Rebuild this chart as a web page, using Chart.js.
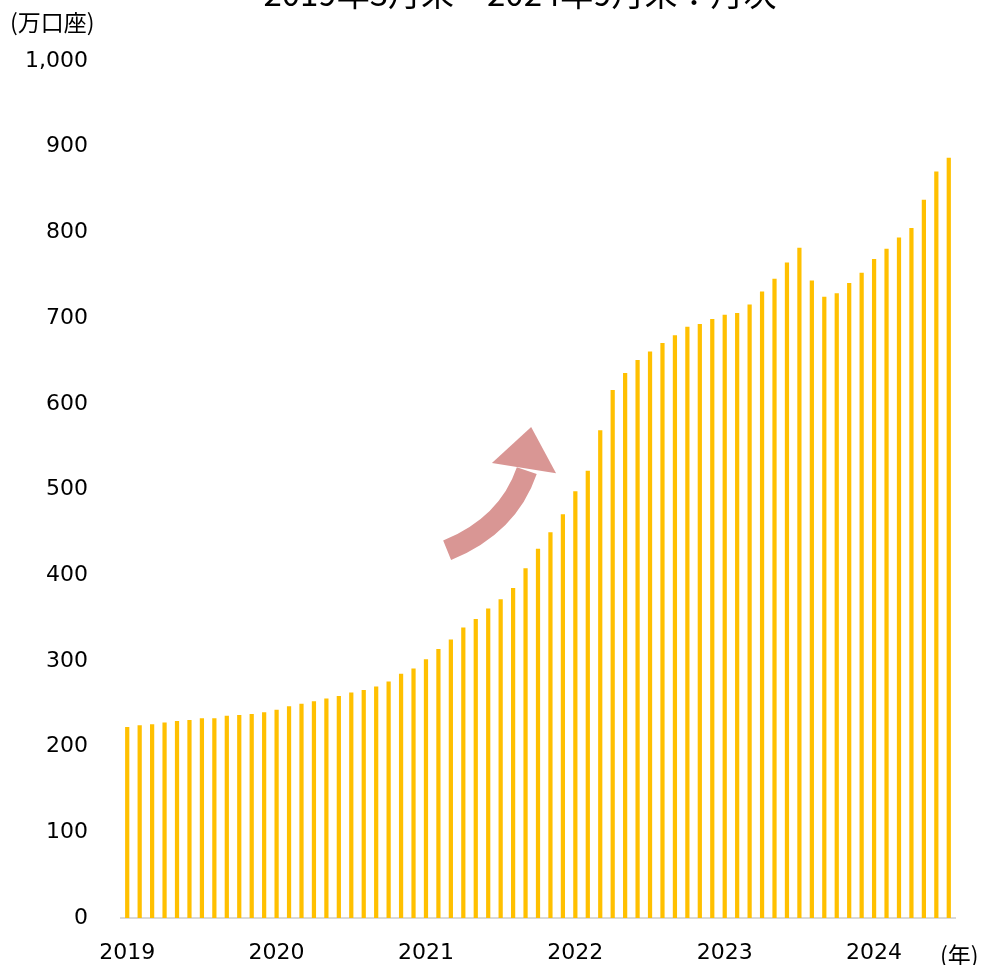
<!DOCTYPE html>
<html>
<head>
<meta charset="utf-8">
<script src="https://cdn.jsdelivr.net/npm/chart.js@4/dist/chart.umd.min.js"></script>
<style>
  body { margin: 0; background: #fff; }
</style>
</head>
<body>
<canvas id="myChart" width="993" height="965"></canvas>
<script>
// 口座数（万口座）、2019年3月末～2024年9月末、月次
var yearTicks = ['2019', '2020', '2021', '2022', '2023', '2024'];
var startMonth = 3;
var accounts = [
  223, 225, 226, 228, 230, 231, 233, 233, 236, 237, 238, 240,
  243, 247, 250, 253, 256, 259, 263, 266, 270, 276, 285, 291,
  302, 314, 325, 339, 349, 361, 372, 385, 408, 431, 450, 471,
  498, 522, 569, 616, 636, 651, 661, 671, 680, 690, 693, 699,
  704, 706, 716, 731, 746, 765, 782, 744, 725, 729, 741, 753,
  769, 781, 794, 805, 838, 871, 887
];

var months = [];
for (var i = 0; i < accounts.length; i++) {
  var m = startMonth - 1 + i;
  months.push(yearTicks[Math.floor(m / 12)] + '年' + (m % 12 + 1) + '月');
}

var jpFont = '"Noto Sans CJK JP", sans-serif';
var numFont = '"DejaVu Sans", "Noto Sans CJK JP", sans-serif';

// タイトル・単位・矢印
var extras = {
  id: 'extras',
  afterDraw: function(chart) {
    var ctx = chart.ctx;
    var x = chart.scales.x, y = chart.scales.y;
    ctx.save();
    ctx.fillStyle = '#000';
    ctx.font = '33px ' + jpFont;
    ctx.textAlign = 'center';
    ctx.textBaseline = 'alphabetic';
    ctx.fillText('2019年3月末～2024年9月末：月次', 520, 6);

    ctx.font = '23px ' + jpFont;
    ctx.textAlign = 'left';
    ctx.textBaseline = 'middle';
    ctx.fillText('(万口座)', 10, 22);
    ctx.fillText('(年)', 940, 955);

    // 矢印
    var px = function(i) { return x.getPixelForValue(i); };
    var py = function(v) { return y.getPixelForValue(v); };
    ctx.strokeStyle = '#d99694';
    ctx.fillStyle = '#d99694';
    ctx.lineWidth = 21;
    ctx.lineCap = 'butt';
    ctx.beginPath();
    ctx.moveTo(px(25.7), py(429));
    ctx.quadraticCurveTo(px(30.6), py(458), px(32.1), py(522));
    ctx.stroke();
    ctx.beginPath();
    ctx.moveTo(px(29.3), py(531));
    ctx.lineTo(px(32.45), py(573));
    ctx.lineTo(px(34.45), py(519));
    ctx.closePath();
    ctx.fill();
    ctx.restore();
  }
};

function makeChart() {
  var ctx = document.getElementById('myChart').getContext('2d');
  var myChart = new Chart(ctx, {
    type: 'bar',
    data: {
      labels: months,
      datasets: [{
        label: '口座数',
        data: accounts,
        backgroundColor: '#ffc000',
        barPercentage: 0.34,
        categoryPercentage: 1
      }]
    },
    options: {
      responsive: false,
      animation: false,
      layout: { padding: { top: 61, right: 38, bottom: 0, left: 0 } },
      plugins: {
        legend: { display: false },
        tooltip: { enabled: false }
      },
      scales: {
        x: {
          grid: { display: false, drawTicks: false },
          border: { color: '#d9d9d9', width: 2 },
          ticks: {
            autoSkip: false,
            maxRotation: 0,
            padding: 22,
            color: '#000',
            font: { family: numFont, size: 22 },
            callback: function(v, i) {
              return i % 12 === 0 ? yearTicks[i / 12] : '';
            }
          },
          afterFit: function(s) { s.height = 47; }
        },
        y: {
          min: 0,
          max: 1000,
          grid: { display: false, drawTicks: false },
          border: { display: false },
          ticks: {
            stepSize: 100,
            padding: 33,
            color: '#000',
            font: { family: numFont, size: 22 },
            callback: function(v) { return v.toLocaleString('en-US'); }
          },
          afterFit: function(s) { s.width = 121; }
        }
      }
    },
    plugins: [extras]
  });
}

makeChart();
</script>
</body>
</html>
